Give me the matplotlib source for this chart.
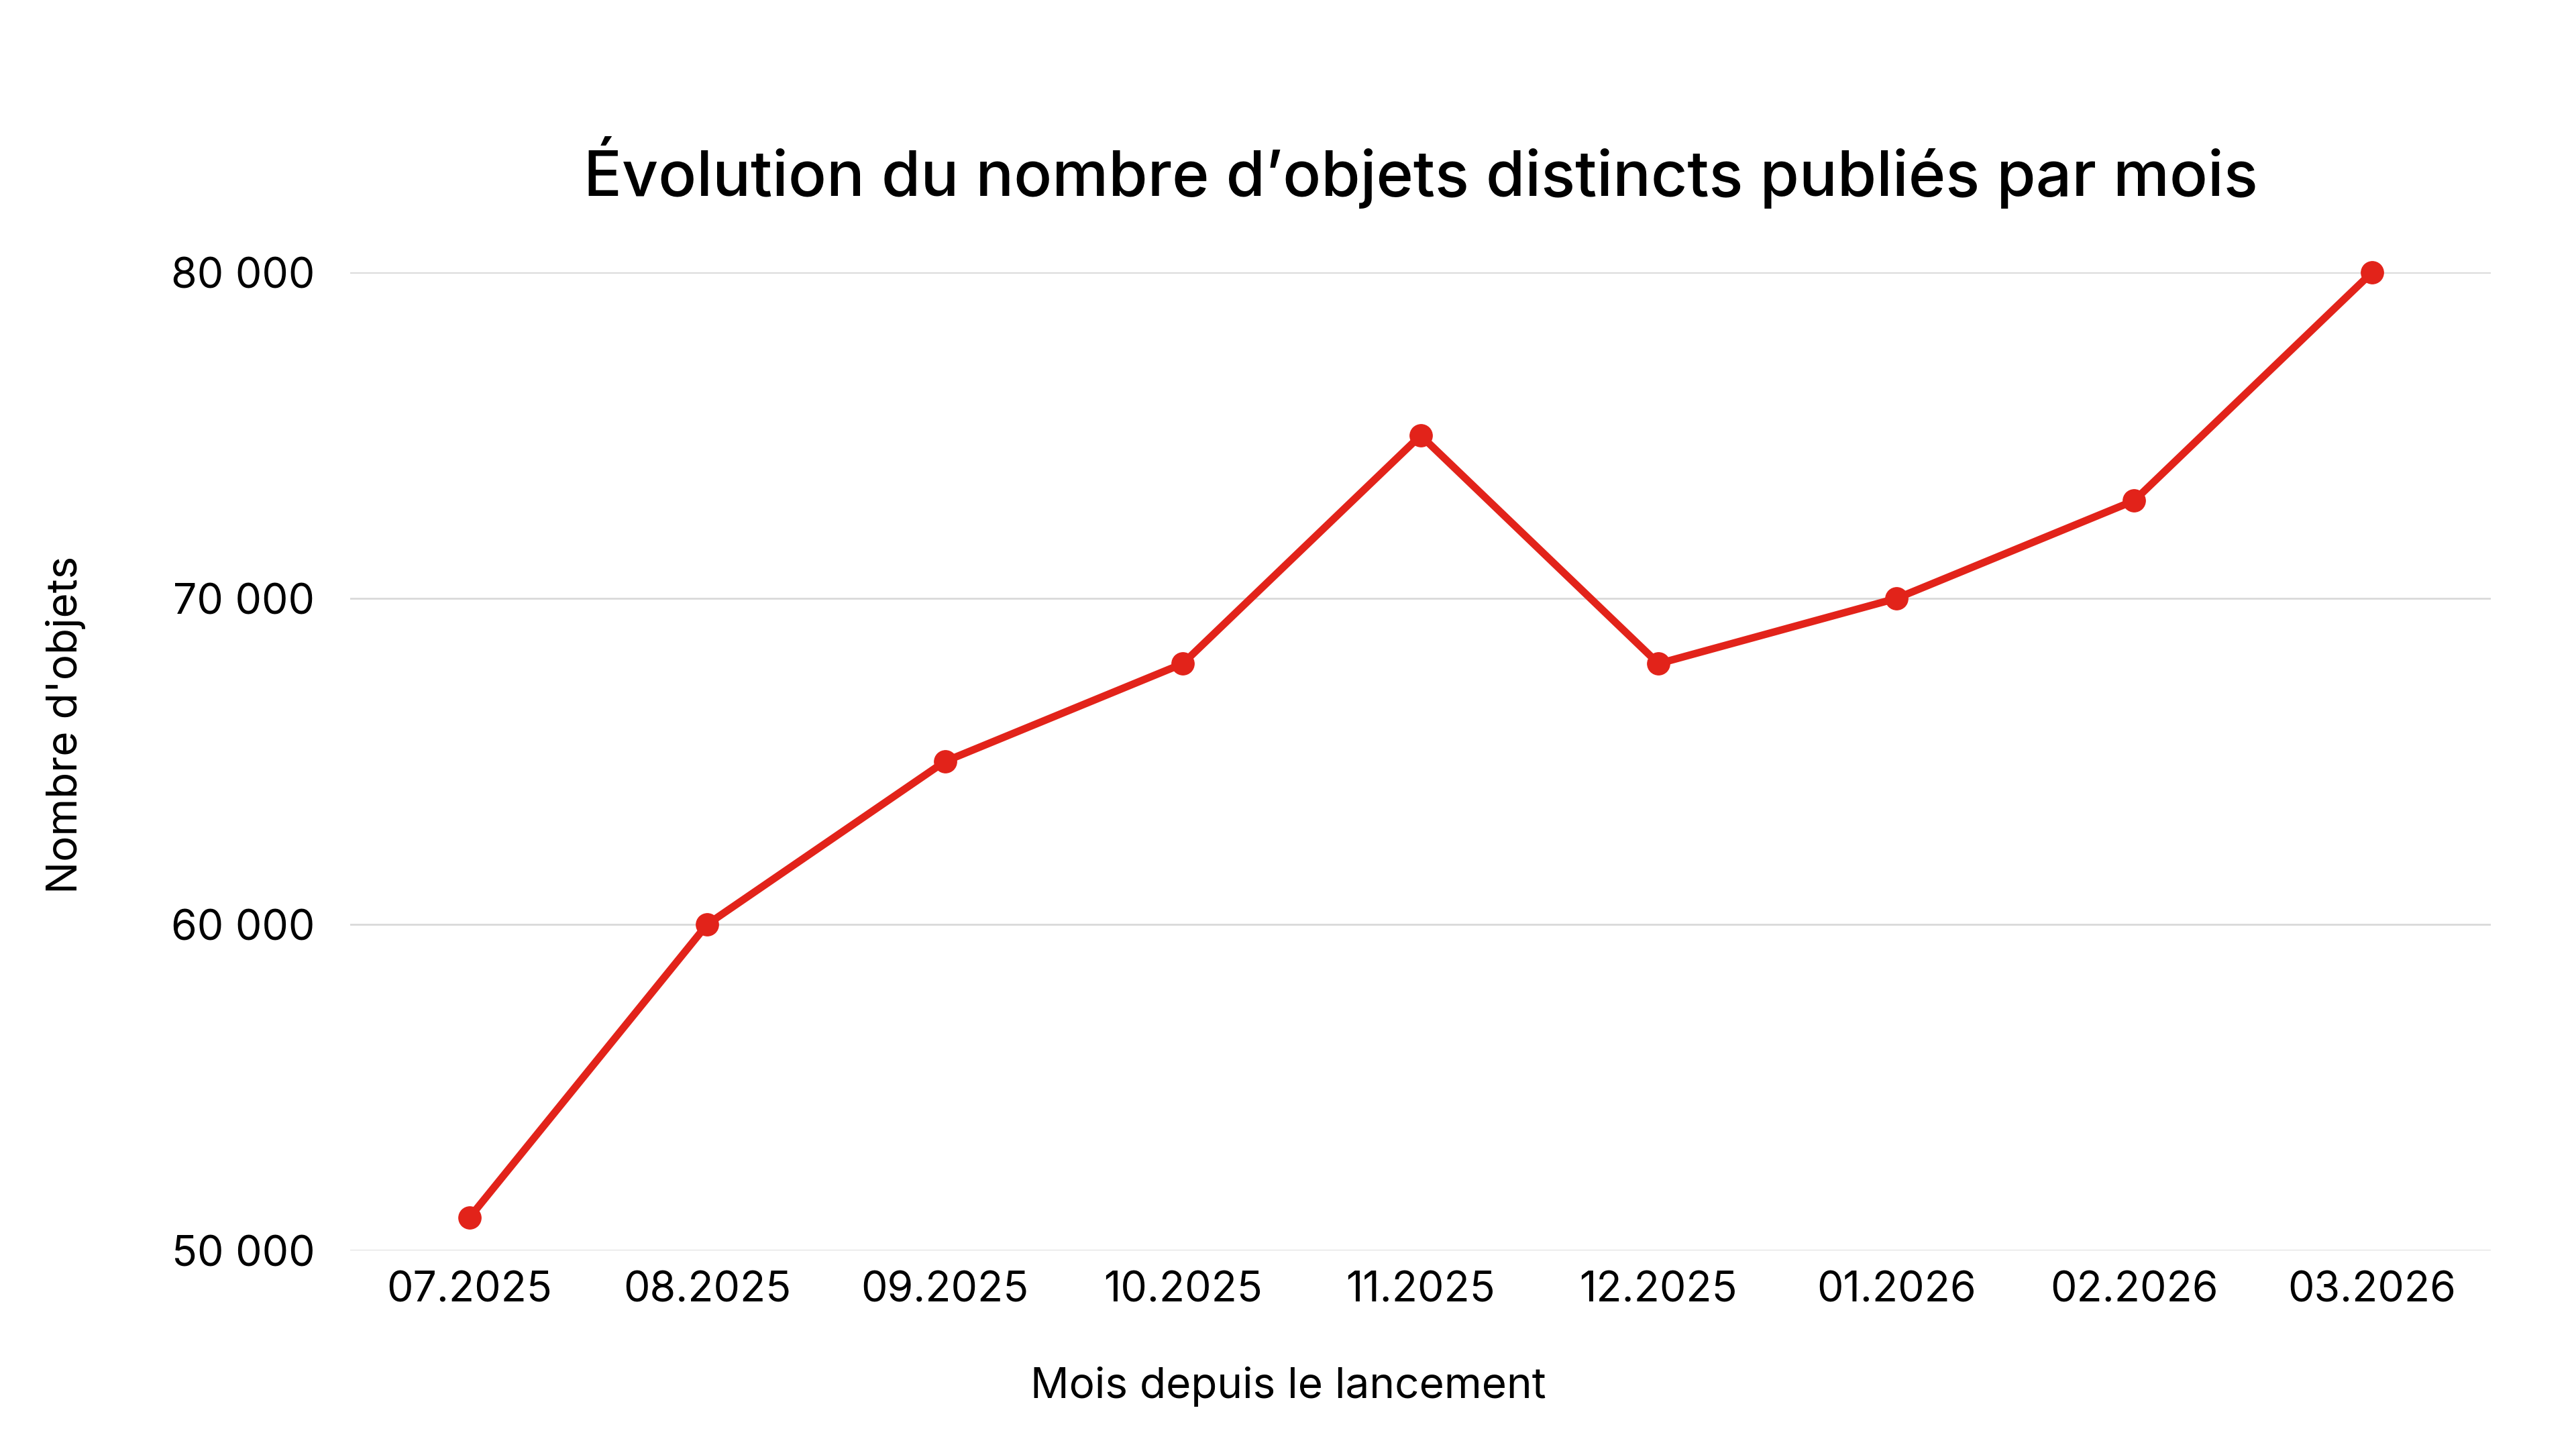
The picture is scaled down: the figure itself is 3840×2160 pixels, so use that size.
import matplotlib.pyplot as plt
from matplotlib.ticker import FuncFormatter

plt.rcParams['font.family'] = ['Inter', 'DejaVu Sans']

# données
mois = ['07.2025', '08.2025', '09.2025', '10.2025', '11.2025',
        '12.2025', '01.2026', '02.2026', '03.2026']
objets = [51000, 60000, 65000, 68000, 75000, 68000, 70000, 73000, 80000]
y_ticks = [50000, 60000, 70000, 80000]


def milliers(x, pos):
    return f'{int(x):,}'.replace(',', ' ')


def main():
    fig = plt.figure(figsize=(38.4, 21.6), dpi=100)
    ax = fig.add_axes([0.136, 0.137, 0.831, 0.675])

    x = list(range(len(mois)))
    ax.plot(x, objets, color='#e2231a', linewidth=8, marker='o',
            markersize=24, clip_on=False, zorder=3)

    ax.set_xlim(-0.5, len(mois) - 0.5)
    ax.set_ylim(50000, 80000)
    ax.set_xticks(x)
    ax.set_xticklabels(mois)
    ax.set_yticks(y_ticks)
    ax.yaxis.set_major_formatter(FuncFormatter(milliers))

    ax.grid(axis='y', color='#d9d9d9', linewidth=2)
    ax.set_axisbelow(True)
    for spine in ax.spines.values():
        spine.set_visible(False)
    ax.tick_params(axis='both', length=0, labelsize=45)
    ax.tick_params(axis='y', pad=38)
    ax.tick_params(axis='x', pad=22)

    ax.set_title('Évolution du nombre d’objets distincts publiés par mois',
                 fontsize=68, fontweight='medium', pad=82)
    # titres d'axes centrés sur la figure
    fig.text(0.5, 0.043, 'Mois depuis le lancement', fontsize=46,
             ha='center', va='center')
    fig.text(0.0255, 0.5, "Nombre d'objets", fontsize=46,
             ha='center', va='center', rotation=90)

    fig.savefig('out.png', dpi=100, facecolor='white')


if __name__ == "__main__":
    main()
